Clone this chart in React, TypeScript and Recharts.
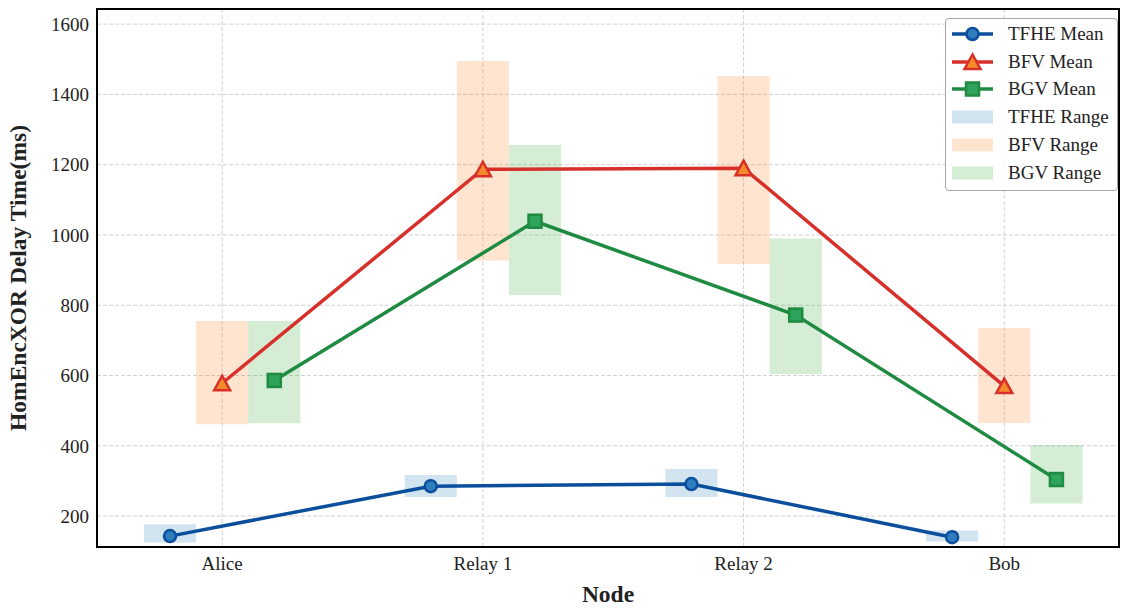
import React from "react";
import { ComposedChart, Line, XAxis, YAxis, CartesianGrid, ReferenceArea } from "recharts";

const nodes = ["Alice", "Relay 1", "Relay 2", "Bob"];

const tfheMean = [143, 285, 291, 140];
const tfheLow = [125, 254, 254, 128];
const tfheHigh = [177, 317, 334, 159];

const bfvMean = [578, 1187, 1190, 570];
const bfvLow = [461, 927, 917, 465];
const bfvHigh = [755, 1495, 1452, 735];

const bgvMean = [586, 1039, 772, 304];
const bgvLow = [464, 829, 604, 236];
const bgvHigh = [755, 1256, 990, 402];

const yTicks = [200, 400, 600, 800, 1000, 1200, 1400, 1600];
const xTicks = [0, 1, 2, 3];

const FONT = "'Liberation Serif', 'DejaVu Serif', serif";
const W = 0.2; // bar width / offset in category units
const X_DOM: [number, number] = [-0.48, 3.44];
const Y_DOM: [number, number] = [112, 1643];

const series = [
  { name: "TFHE", off: -W, mean: tfheMean, low: tfheLow, high: tfheHigh, line: "#0b4f9c", face: "#2e7dbd", range: "#1f77b4", marker: "circle" },
  { name: "BFV", off: 0, mean: bfvMean, low: bfvLow, high: bfvHigh, line: "#d7302a", face: "#f58a2a", range: "#ff7f0e", marker: "triangle" },
  { name: "BGV", off: W, mean: bgvMean, low: bgvLow, high: bgvHigh, line: "#1f8a42", face: "#2ea35b", range: "#2ca02c", marker: "square" },
];

function Marker({ kind, cx, cy, fill, stroke }: any) {
  if (cx == null || cy == null) return null;
  if (kind === "circle") return <circle cx={cx} cy={cy} r={6} fill={fill} stroke={stroke} strokeWidth={2.5} />;
  if (kind === "triangle")
    return (
      <polygon
        points={`${cx},${cy - 7.5} ${cx - 8},${cy + 7} ${cx + 8},${cy + 7}`}
        fill={fill} stroke={stroke} strokeWidth={2.5} strokeLinejoin="miter"
      />
    );
  return <rect x={cx - 6.5} y={cy - 6.5} width={13} height={13} fill={fill} stroke={stroke} strokeWidth={2.5} />;
}

function LegendBox() {
  const rowH = 27.8;
  return (
    <div style={{
      position: "absolute", left: 945, top: 18, width: 171, height: 170,
      border: "1.5px solid #a6a6a6", borderRadius: 4, background: "rgba(255,255,255,0.85)",
      fontFamily: FONT, fontSize: 19, color: "#222", paddingTop: 1,
    }}>
      {series.map(s => (
        <div key={s.name + "m"} style={{ height: rowH, display: "flex", alignItems: "center" }}>
          <svg width={56} height={20} style={{ marginLeft: 5 }}>
            <line x1={1} x2={42} y1={10} y2={10} stroke={s.line} strokeWidth={3.5} />
            <Marker kind={s.marker} cx={21.5} cy={10} fill={s.face} stroke={s.line} />
          </svg>
          <span style={{ marginLeft: 1 }}>{s.name} Mean</span>
        </div>
      ))}
      {series.map(s => (
        <div key={s.name + "r"} style={{ height: rowH, display: "flex", alignItems: "center" }}>
          <svg width={56} height={20} style={{ marginLeft: 5 }}>
            <rect x={1} y={3.5} width={41} height={13} fill={s.range} fillOpacity={0.2} />
          </svg>
          <span style={{ marginLeft: 1 }}>{s.name} Range</span>
        </div>
      ))}
    </div>
  );
}

export default function App() {
  const axisLine = { stroke: "#000", strokeWidth: 2 };
  const tick = { fontFamily: FONT, fontSize: 19, fill: "#222" };
  return (
    <div style={{ position: "absolute", left: 0, top: 0, width: 1122, height: 609, background: "#fff" }}>
      <ComposedChart width={1122} height={609} margin={{ top: 9, right: 3, left: 0, bottom: 0 }}>
        <CartesianGrid stroke="#d2d2d2" strokeDasharray="4 2" horizontalValues={yTicks} verticalValues={xTicks} />
        <XAxis
          dataKey="x" type="number" domain={X_DOM} allowDataOverflow ticks={xTicks} interval={0}
          tickFormatter={(v: number) => nodes[v] ?? ""} height={62} tickLine={false} tickSize={0} tickMargin={10}
          axisLine={axisLine} tick={tick}
          label={{ value: "Node", position: "insideBottom", offset: 7, style: { fontFamily: FONT, fontSize: 23.5, fontWeight: 700, fill: "#222" } }}
        />
        <YAxis
          type="number" domain={Y_DOM} allowDataOverflow ticks={yTicks} width={97} tickLine={false} tickSize={0} tickMargin={8}
          axisLine={axisLine} tick={tick}
          label={{ value: "HomEncXOR Delay Time(ms)", angle: -90, position: "insideLeft", offset: 18, style: { textAnchor: "middle", fontFamily: FONT, fontSize: 23.5, fontWeight: 700, fill: "#222" } }}
        />

        {series.map(s =>
          nodes.map((n, i) => (
            <ReferenceArea
              key={s.name + n}
              x1={i + s.off - W / 2} x2={i + s.off + W / 2}
              y1={s.low[i]} y2={s.high[i]}
              fill={s.range} fillOpacity={0.2} stroke="none" ifOverflow="visible"
            />
          ))
        )}

        {series.map(s => (
          <Line
            key={s.name}
            data={nodes.map((n, i) => ({ x: i + s.off, y: s.mean[i], node: n }))}
            dataKey="y" name={`${s.name} Mean`} type="linear"
            stroke={s.line} strokeWidth={3.5}
            dot={(p: any) => <Marker key={p.index} kind={s.marker} cx={p.cx} cy={p.cy} fill={s.face} stroke={s.line} />}
            activeDot={false} isAnimationActive={false}
          />
        ))}

        {/* plot frame */}
        <ReferenceArea x1={X_DOM[0]} x2={X_DOM[1]} y1={Y_DOM[0]} y2={Y_DOM[1]} fill="none" stroke="#000" strokeWidth={2} ifOverflow="visible" />
      </ComposedChart>
      <LegendBox />
    </div>
  );
}
